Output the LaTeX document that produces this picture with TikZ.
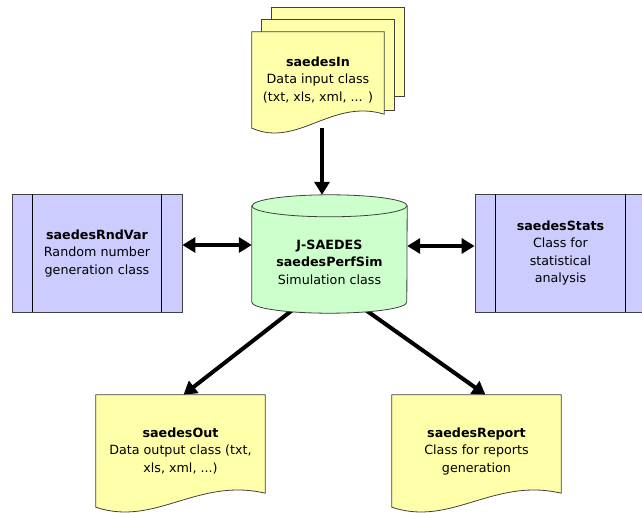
\documentclass[tikz,border=0pt]{standalone}
\usepackage{fontspec}
\setmainfont{DejaVu Sans}
\usepackage{tikz}
\usetikzlibrary{arrows.meta,calc}

\definecolor{docyellow}{HTML}{FFFFAA}
\definecolor{boxblue}{HTML}{CCCCFF}
\definecolor{cylgreen}{HTML}{CCFFCC}

\pgfdeclarelayer{background}
\pgfsetlayers{background,main}

% document outline with a wavy bottom round node #1
\newcommand{\docoutline}[1]{%
  \filldraw[docline] (#1.north west) -- (#1.north east) -- ($(#1.south east)+(0,14)$)
    .. controls ($(#1.south west)!0.6!(#1.south east)+(0,30)$) and ($(#1.south west)!0.35!(#1.south east)+(0,-20)$) .. (#1.south west) -- cycle;}

\begin{document}
\begin{tikzpicture}[x=1pt,y=1pt,font=\fontsize{12.7}{17.5}\selectfont,
  doc/.style={inner sep=0pt,align=center,minimum width=169pt,minimum height=112pt},
  docline/.style={fill=docyellow,draw=black!75,line width=0.8pt},
  classbox/.style={fill=boxblue,draw=black!75,line width=0.8pt,inner sep=0pt,align=center,minimum height=118pt},
  arr/.style={line width=4pt,-{Triangle[length=13pt,width=15pt]}},
  darr/.style={line width=4pt,{Triangle[length=13pt,width=15pt]}-{Triangle[length=13pt,width=15pt]}}]
  \useasboundingbox (0,0) rectangle (642,512);

  \node[doc,minimum width=132pt,minimum height=96pt] (in) at (318,432) {\textbf{saedesIn}\\Data input class\\(txt, xls, xml, ... )};
  \node[minimum width=155pt,minimum height=118pt,inner sep=0pt] (sim) at (329.5,258) {};
  \node[align=center,inner sep=0pt] (simtxt) at ([yshift=-8pt]sim.center) {\textbf{J-SAEDES}\\\textbf{saedesPerfSim}\\Simulation class};
  \node[classbox,minimum width=170pt] (rnd) at (97,259) {\textbf{saedesRndVar}\\Random number\\generation class};
  \node[classbox,minimum width=171pt] (stats) at (560.5,259) {\textbf{saedesStats}\\Class for\\statistical\\analysis};
  \node[doc] (out) at (180.5,61) {\textbf{saedesOut}\\Data output class (txt,\\xls, xml, ...)};
  \node[doc] (rep) at (476.5,61) {\textbf{saedesReport}\\Class for reports\\generation};

  \foreach \b in {rnd,stats}{
    \draw[line width=0.8pt] ([xshift=21pt]\b.north west) -- ([xshift=21pt]\b.south west)
      ([xshift=-21pt]\b.north east) -- ([xshift=-21pt]\b.south east);}

  \begin{pgfonlayer}{background}
    % connectors
    \draw[arr] ([xshift=4pt]in.south) -- ([xshift=4pt]in.south |- sim.north);
    \draw[darr] ([yshift=8pt]rnd.east) -- ([yshift=8pt]rnd.east -| sim.west);
    \draw[darr] ([yshift=8pt]sim.east) -- ([yshift=8pt]sim.east -| stats.west);
    \draw[arr] ([xshift=-36pt,yshift=4pt]sim.south) -- ([xshift=3pt]out.north);
    \draw[arr] ([xshift=35pt,yshift=4pt]sim.south) -- ([xshift=9pt]rep.north);
    % stacked sheets
    \foreach \d in {2,1}{
      \filldraw[docline] ($(in.north west)+(10*\d,12*\d)$) rectangle ($(in.south east)+(10*\d,4+14*\d)$);}
    \docoutline{in}
    \docoutline{out}
    \docoutline{rep}
    % cylinder
    \filldraw[fill=cylgreen,draw=black!75,line width=0.8pt] ($(sim.north west)+(0,-11)$) -- ($(sim.south west)+(0,11)$)
      arc[start angle=180,end angle=360,x radius=77.5,y radius=11] -- ($(sim.north east)+(0,-11)$)
      arc[start angle=0,end angle=180,x radius=77.5,y radius=11] -- cycle;
    \draw[black!75,line width=0.8pt] ($(sim.north west)+(0,-11)$) arc[start angle=180,end angle=360,x radius=77.5,y radius=11];
  \end{pgfonlayer}
\end{tikzpicture}
\end{document}
